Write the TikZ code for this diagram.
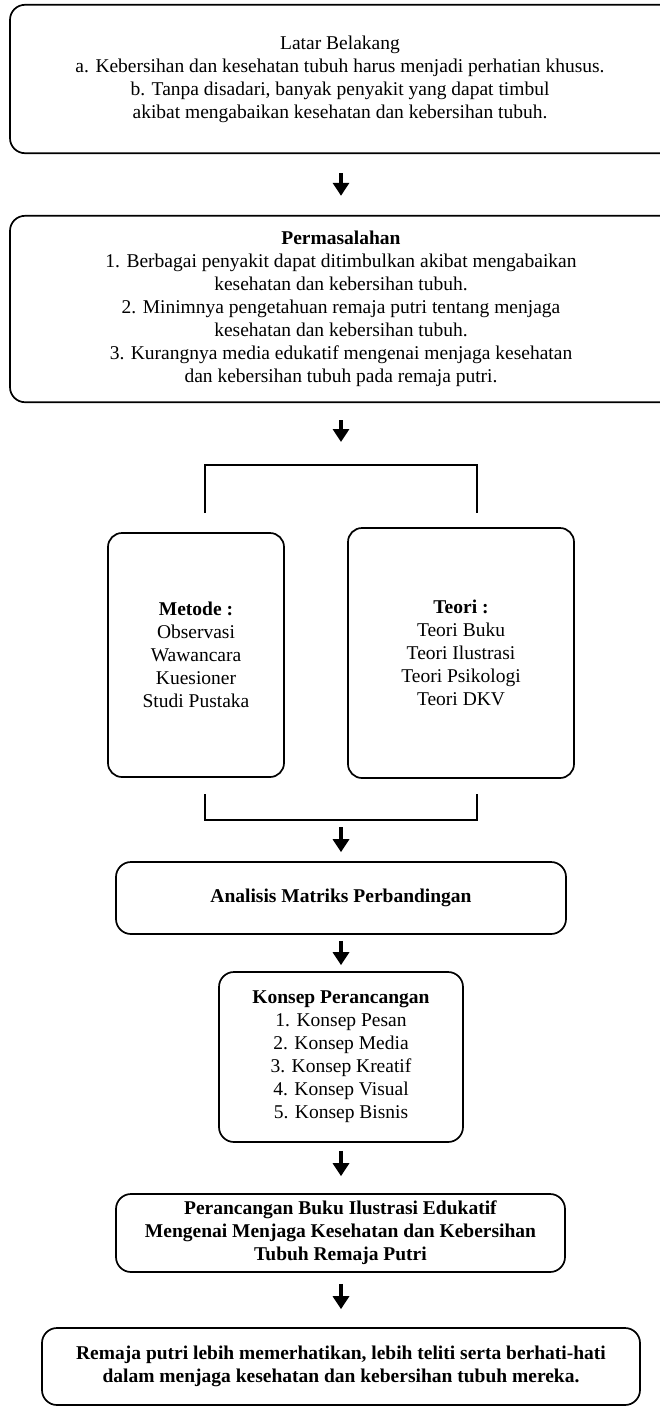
\documentclass[tikz,border=0pt]{standalone}
\usepackage{fontspec}
\setmainfont{Liberation Serif}
\usetikzlibrary{arrows.meta}
\begin{document}
\begin{tikzpicture}[x=1pt,y=-1pt,
  txt/.style={inner sep=0pt,align=center,font=\fontsize{19.5}{23}\selectfont},
  boxline/.style={draw=black,line width=1.7pt,rounded corners=15pt},
  box/.style={txt,boxline},
  arr/.style={line width=3.2pt,-{Triangle[width=16pt,length=13pt]}},
  brk/.style={line width=1.9pt}]
\useasboundingbox (0,0) rectangle (659,1406);
\coordinate (ax) at (341,0);
\coordinate (lx) at (10,0);
\coordinate (rx) at (685,0);
\node[txt,minimum height=148pt] (b1) at (340,79)
  {Latar Belakang\\a. Kebersihan dan kesehatan tubuh harus menjadi perhatian khusus.\\b. Tanpa disadari, banyak penyakit yang dapat timbul\\akibat mengabaikan kesehatan dan kebersihan tubuh.};
\draw[boxline] (b1.north -| lx) rectangle (b1.south -| rx);
\node[txt,minimum height=186pt] (b2) at (341,309)
  {\textbf{Permasalahan}\\1. Berbagai penyakit dapat ditimbulkan akibat mengabaikan\\kesehatan dan kebersihan tubuh.\\2. Minimnya pengetahuan remaja putri tentang menjaga\\kesehatan dan kebersihan tubuh.\\3. Kurangnya media edukatif mengenai menjaga kesehatan\\dan kebersihan tubuh pada remaja putri.};
\draw[boxline] (b2.north -| lx) rectangle (b2.south -| rx);
\node[box,rounded corners=14pt,minimum width=176pt,minimum height=244pt] (met) at (196,655)
  {\textbf{Metode :}\\Observasi\\Wawancara\\Kuesioner\\Studi Pustaka};
\node[box,rounded corners=14pt,minimum width=226pt,minimum height=250pt] (teo) at (461,653)
  {\textbf{Teori :}\\Teori Buku\\Teori Ilustrasi\\Teori Psikologi\\Teori DKV};
\node[box,minimum width=450pt,minimum height=72pt] (ana) at (341,898)
  {\textbf{Analisis Matriks Perbandingan}};
\node[box,minimum width=244pt,minimum height=170pt] (kon) at (341,1057)
  {\textbf{Konsep Perancangan}\\1. Konsep Pesan\\2. Konsep Media\\3. Konsep Kreatif\\4. Konsep Visual\\5. Konsep Bisnis};
\node[box,minimum width=449pt,minimum height=78pt] (per) at (340.5,1233)
  {\textbf{Perancangan Buku Ilustrasi Edukatif}\\\textbf{Mengenai Menjaga Kesehatan dan Kebersihan}\\\textbf{Tubuh Remaja Putri}};
\node[box,minimum width=598pt,minimum height=77pt] (rem) at (341,1366.5)
  {\textbf{Remaja putri lebih memerhatikan, lebih teliti serta berhati-hati}\\\textbf{dalam menjaga kesehatan dan kebersihan tubuh mereka.}};
% brackets
\coordinate (tl) at (205,513); \coordinate (tlc) at (205,465);
\coordinate (trc) at (477,465); \coordinate (tr) at (477,513);
\coordinate (brt) at (341,465);
\coordinate (bl) at (205,794); \coordinate (blc) at (205,820);
\coordinate (brc) at (477,820); \coordinate (br) at (477,794);
\coordinate (brb) at (341,820);
\draw[brk] (tl) -- (tlc) -- (trc) -- (tr);
\draw[brk] (bl) -- (blc) -- (brc) -- (br);
% arrows
\draw[arr,shorten <=20pt,shorten >=20pt] (b1.south -| ax) -- (b2.north -| ax);
\draw[arr,shorten <=18pt,shorten >=23pt] (b2.south -| ax) -- (brt);
\draw[arr,shorten <=7pt,shorten >=9pt] (brb) -- (ana.north -| ax);
\draw[arr,shorten <=6pt,shorten >=6pt] (ana.south -| ax) -- (kon.north -| ax);
\draw[arr,shorten <=8pt,shorten >=17pt] (kon.south -| ax) -- (per.north -| ax);
\draw[arr,shorten <=11pt,shorten >=18pt] (per.south -| ax) -- (rem.north -| ax);
\end{tikzpicture}
\end{document}
